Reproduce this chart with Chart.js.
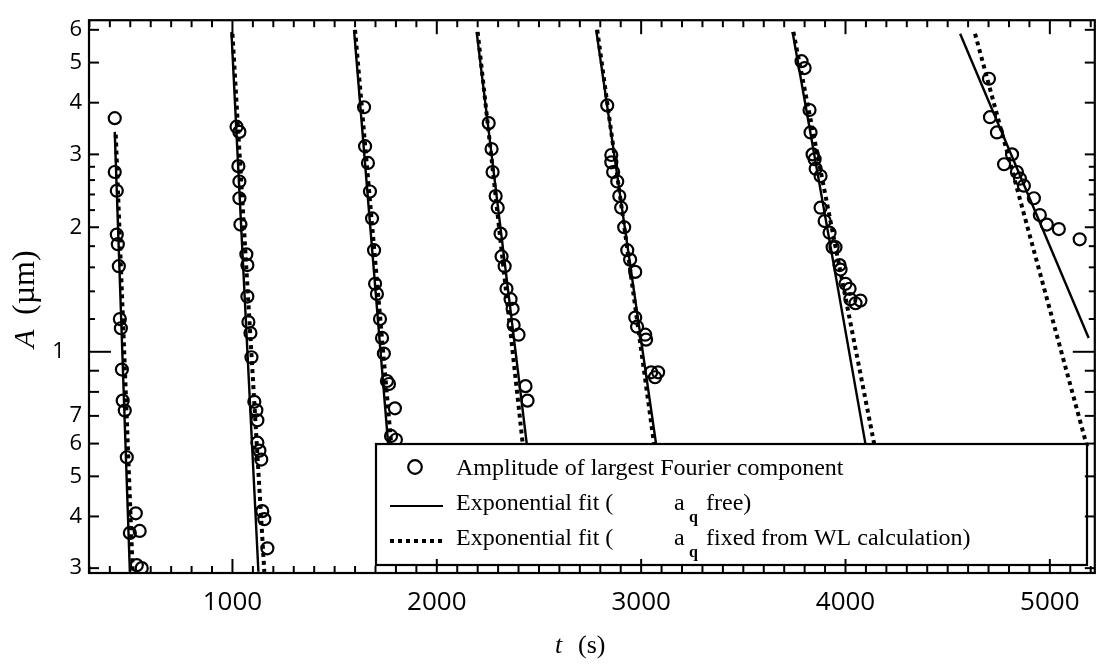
<!DOCTYPE html>
<html>
<head>
<meta charset="utf-8">
<script src="https://cdn.jsdelivr.net/npm/chart.js@4.4.1/dist/chart.umd.min.js"></script>
<style>
  html, body { margin: 0; padding: 0; background: #fff; }
  #wrap { width: 1103px; height: 670px; }
</style>
</head>
<body>
<div id="wrap"><canvas id="chart" width="1103" height="670"></canvas></div>
<script>
// measured amplitudes, one pair of arrays per growth run (t in s, A in um)
const run1T = [424, 424, 434, 434, 439, 444, 449, 454, 459, 463, 473, 483, 527, 498, 546, 532, 556];
const run1A = [3.67, 2.72, 2.45, 1.92, 1.82, 1.61, 1.20, 1.14, 0.906, 0.762, 0.721, 0.556, 0.407, 0.365, 0.369, 0.305, 0.300];
const run2T = [1020, 1034, 1029, 1034, 1034, 1039, 1068, 1073, 1073, 1078, 1088, 1093, 1107, 1117, 1122, 1122, 1132, 1141, 1146, 1156, 1171];
const run2A = [3.50, 3.40, 2.81, 2.58, 2.35, 2.03, 1.72, 1.62, 1.36, 1.18, 1.11, 0.97, 0.757, 0.722, 0.683, 0.603, 0.577, 0.549, 0.412, 0.394, 0.335];
const run3T = [1644, 1649, 1663, 1673, 1683, 1693, 1698, 1707, 1722, 1732, 1741, 1756, 1766, 1795, 1776, 1800];
const run3A = [3.90, 3.14, 2.86, 2.44, 2.10, 1.76, 1.46, 1.38, 1.20, 1.08, 0.99, 0.85, 0.836, 0.73, 0.626, 0.613];
const run4T = [2254, 2268, 2273, 2288, 2298, 2312, 2317, 2332, 2341, 2361, 2371, 2376, 2400, 2434, 2444];
const run4A = [3.57, 3.09, 2.72, 2.38, 2.23, 1.93, 1.70, 1.61, 1.42, 1.34, 1.27, 1.16, 1.10, 0.826, 0.762];
const run5T = [2834, 2854, 2854, 2863, 2883, 2893, 2902, 2917, 2932, 2946, 2971, 2971, 2980, 3020, 3024, 3049, 3083, 3068];
const run5A = [3.94, 2.99, 2.87, 2.72, 2.58, 2.38, 2.23, 2.00, 1.76, 1.67, 1.56, 1.21, 1.15, 1.10, 1.07, 0.892, 0.892, 0.868];
const run6T = [3785, 3800, 3824, 3829, 3839, 3849, 3854, 3878, 3878, 3898, 3922, 3937, 3951, 3971, 3976, 4000, 4020, 4024, 4049, 4073];
const run6A = [5.04, 4.85, 3.84, 3.39, 3.00, 2.92, 2.77, 2.66, 2.23, 2.07, 1.94, 1.79, 1.79, 1.62, 1.58, 1.46, 1.42, 1.34, 1.31, 1.33];
const run7T = [4702, 4707, 4741, 4815, 4776, 4839, 4854, 4873, 4922, 4951, 4985, 5044, 5146];
const run7A = [4.57, 3.69, 3.39, 3.00, 2.84, 2.72, 2.62, 2.52, 2.35, 2.14, 2.03, 1.98, 1.87];

// exponential fits: start/end of each line
const fitFreeT  = [[424, 498], [995, 1127], [1595, 1763], [2195, 2442], [2780, 3075], [3741, 4100], [4561, 5190]];
const fitFreeA  = [[3.40, 0.294], [5.93, 0.294], [6.0, 0.59], [5.93, 0.59], [6.0, 0.59], [5.93, 0.59], [5.87, 1.08]];
const fitFixedT = [[429, 512], [1000, 1156], [1600, 1778], [2200, 2422], [2785, 3065], [3745, 4143], [4634, 5182]];
const fitFixedA = [[3.35, 0.294], [5.87, 0.294], [6.0, 0.59], [5.93, 0.59], [6.0, 0.59], [5.93, 0.59], [5.87, 0.59]];

// axis ticks
const xTickValues = [1000, 2000, 3000, 4000, 5000];
const xTickLabels = ['1000', '2000', '3000', '4000', '5000'];
const yTickValues = [0.3, 0.4, 0.5, 0.6, 0.7, 0.8, 0.9, 1, 1.2, 1.4, 1.6, 1.8, 2, 2.2, 2.4, 2.6, 2.8, 3, 4, 5, 6];
const yTickLabels = ['3', '4', '5', '6', '7', '', '', '1   ', '', '', '', '', '2', '', '', '', '', '3', '4', '5', '6'];

const runT = [run1T, run2T, run3T, run4T, run5T, run6T, run7T];
const runA = [run1A, run2A, run3A, run4A, run5A, run6A, run7A];

const points = [];
runT.forEach((ts, i) => ts.forEach((t, j) => points.push({ x: t, y: runA[i][j] })));

const datasets = [];
fitFreeT.forEach((ts, i) => {
    datasets.push({
        data: ts.map((t, j) => ({ x: t, y: fitFreeA[i][j] })),
        showLine: true, borderColor: '#000', borderWidth: 2.4, pointRadius: 0,
    });
    datasets.push({
        data: fitFixedT[i].map((t, j) => ({ x: t, y: fitFixedA[i][j] })),
        showLine: true, borderColor: '#000', borderWidth: 4, borderDash: [4, 4], pointRadius: 0,
    });
});
datasets.push({
    data: points,
    pointStyle: 'circle', pointRadius: 6, borderWidth: 2.2,
    borderColor: '#000', backgroundColor: 'rgba(0,0,0,0)',
});

const serif = '"Liberation Serif", "Times New Roman", serif';

// legend box, frame and inward ticks on all four sides
const frameAndTicks = {
    id: 'frameAndTicks',
    afterDatasetsDraw(chart) {
        const { ctx, chartArea: a, scales: { x, y } } = chart;
        ctx.save();
        const seg = (x0, y0, x1, y1) => { ctx.beginPath(); ctx.moveTo(x0, y0); ctx.lineTo(x1, y1); ctx.stroke(); };

        // legend
        ctx.fillStyle = '#fff';
        ctx.fillRect(376, 444, 711, 121);
        ctx.strokeStyle = '#000';
        ctx.lineWidth = 2.2;
        ctx.strokeRect(376, 444, 711, 121);
        ctx.beginPath(); ctx.arc(415, 467, 6.8, 0, Math.PI * 2); ctx.stroke();
        seg(390, 506, 443, 506);
        ctx.setLineDash([4, 4]); ctx.lineWidth = 4;
        seg(390, 541, 443, 541);
        ctx.setLineDash([]);
        ctx.fillStyle = '#000';
        ctx.textBaseline = 'alphabetic';
        ctx.textAlign = 'left';
        ctx.font = '24px ' + serif;
        ctx.fillText('Amplitude of largest Fourier component', 456, 475);
        ctx.fillText('Exponential fit (', 456, 510);
        ctx.fillText('a', 674, 510);
        ctx.fillText('free)', 706, 510);
        ctx.fillText('Exponential fit (', 456, 545);
        ctx.fillText('a', 674, 545);
        ctx.fillText('fixed from WL calculation)', 706, 545);
        ctx.font = 'bold 16px ' + serif;
        ctx.fillText('q', 689, 522);
        ctx.fillText('q', 689, 557);

        // frame
        ctx.lineWidth = 2.2;
        ctx.strokeRect(a.left, a.top, a.right - a.left, a.bottom - a.top);

        // x ticks every 100 s
        ctx.lineWidth = 2;
        for (let t = 300; t <= 5200; t += 100) {
            const px = x.getPixelForValue(t);
            const len = t % 1000 === 0 ? 14 : 7;
            seg(px, a.bottom, px, a.bottom - len);
            seg(px, a.top, px, a.top + len);
        }
        // y ticks
        yTickValues.forEach((v, i) => {
            const py = y.getPixelForValue(v);
            let len = yTickLabels[i] !== '' || v === 0.8 || v === 0.9 ? 10 : 6;
            if (v === 1) len = 22;
            seg(a.left, py, a.left + len, py);
            seg(a.right, py, a.right - len, py);
        });
        ctx.restore();
    },
    afterDraw(chart) {
        const { ctx } = chart;
        ctx.save();
        ctx.fillStyle = '#000';
        ctx.textBaseline = 'alphabetic';
        ctx.textAlign = 'left';
        ctx.font = 'italic 26px ' + serif;
        ctx.fillText('t', 555, 653);
        ctx.font = '26px ' + serif;
        ctx.fillText('(s)', 578, 653);
        ctx.translate(34, 348);
        ctx.rotate(-Math.PI / 2);
        ctx.font = 'italic 30px ' + serif;
        ctx.fillText('A', 0, 0);
        ctx.font = '32px ' + serif;
        ctx.fillText('(\u00b5m)', 33, 0);
        ctx.restore();
    }
};

new Chart(document.getElementById('chart'), {
    type: 'scatter',
    data: { datasets: datasets },
    options: {
        responsive: false,
        animation: false,
        devicePixelRatio: 1,
        layout: { padding: { top: 8, right: 5, left: 0, bottom: 0 } },
        plugins: { legend: { display: false }, tooltip: { enabled: false } },
        scales: {
            x: {
                type: 'linear', min: 298, max: 5220,
                grid: { display: false, drawTicks: false },
                border: { display: false },
                afterBuildTicks: (s) => { s.ticks = xTickValues.map(v => ({ value: v })); },
                afterFit: (s) => { s.height = 97; },
                ticks: {
                    autoSkip: false, maxRotation: 0, padding: 14, color: '#000',
                    font: { family: '"Open Sans", sans-serif', size: 26 },
                    callback: (v) => xTickLabels[xTickValues.indexOf(v)] ?? '',
                },
            },
            y: {
                type: 'logarithmic', min: 0.292, max: 6.33,
                grid: { display: false, drawTicks: false },
                border: { display: false },
                afterBuildTicks: (s) => { s.ticks = yTickValues.map(v => ({ value: v })); },
                afterFit: (s) => { s.width = 89; },
                ticks: {
                    autoSkip: false, padding: 7, color: '#000',
                    font: { family: '"Open Sans", sans-serif', size: 22 },
                    callback: (v) => {
                        const i = yTickValues.findIndex(w => Math.abs(w - v) < 1e-9);
                        return i >= 0 ? yTickLabels[i] : '';
                    },
                },
            },
        },
    },
    plugins: [frameAndTicks],
});
</script>
</body>
</html>
